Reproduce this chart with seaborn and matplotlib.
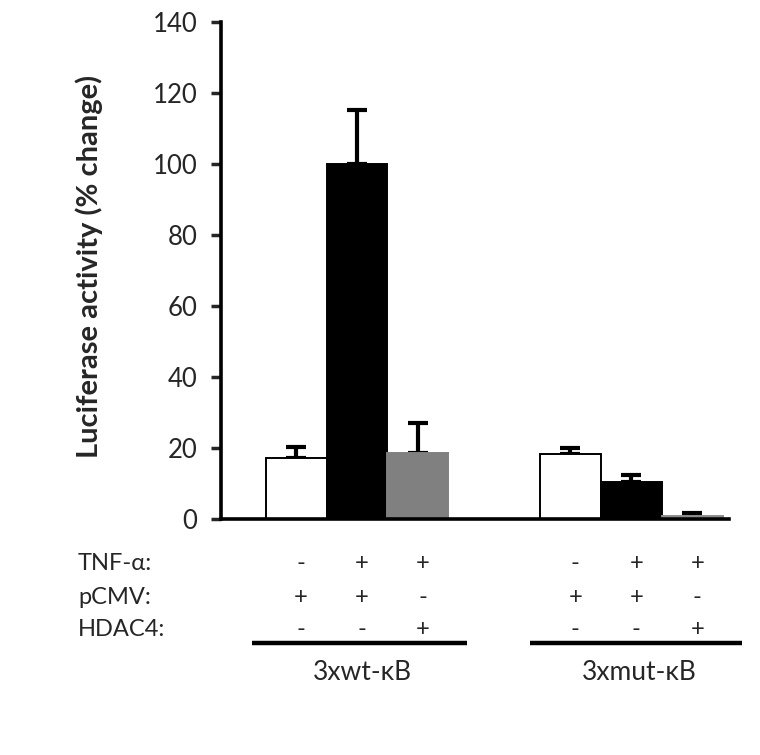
import matplotlib
matplotlib.use("Agg")
import matplotlib.pyplot as plt
import matplotlib.transforms as mtransforms
import seaborn as sns
import pandas as pd
import numpy as np

# ---- data ----
groups = ["3xwt-\u03baB", "3xmut-\u03baB"]
conditions = ["ctrl", "TNF", "TNF+HDAC4", "ctrl", "TNF", "TNF+HDAC4"]
group_of_bar = [0, 0, 0, 1, 1, 1]
positions = [0.0, 1.0, 2.0, 4.5, 5.5, 6.5]
values = [17.0, 100.0, 18.4, 18.1, 10.2, 0.8]
errors = [3.3, 15.0, 8.6, 1.9, 2.1, 0.7]
row_labels = ["TNF-\u03b1:", "pCMV:", "HDAC4:"]
tnf_signs = ["-", "+", "+", "-", "+", "+"]
pcmv_signs = ["+", "+", "-", "+", "+", "-"]
hdac4_signs = ["-", "-", "+", "-", "-", "+"]
yticks = [0, 20, 40, 60, 80, 100, 120, 140]
ylabel = "Luciferase activity (% change)"

face_colors = ["#ffffff", "#000000", "#808080", "#ffffff", "#000000", "#a6a6a6"]
edge_colors = ["#000000", "#000000", "#808080", "#000000", "#000000", "#8c8c8c"]

sns.set_style("white")
plt.rcParams["font.family"] = ["Lato", "DejaVu Sans"]

fig = plt.figure(figsize=(7.6, 7.55), dpi=100)
ax = fig.add_axes([0.2908, 0.313, 0.9592 - 0.2908, 0.9713 - 0.313])

df = pd.DataFrame({"pos": positions, "value": values, "bar": [str(i) for i in range(6)]})
palette = {str(i): face_colors[i] for i in range(6)}
sns.barplot(data=df, x="pos", y="value", hue="bar", palette=palette,
            native_scale=True, width=1.0, legend=False, ax=ax, saturation=1,
            errorbar=None)

for p in ax.patches:
    cx = p.get_x() + p.get_width() / 2
    i = int(np.argmin([abs(cx - q) for q in positions]))
    p.set_facecolor(face_colors[i])
    p.set_edgecolor(edge_colors[i])
    p.set_linewidth(1.4)
    p.set_zorder(2)

ax.errorbar(positions, values, yerr=[np.zeros(len(errors)), errors], fmt="none",
            ecolor="black", elinewidth=3, capsize=7, capthick=3, zorder=1)

ax.set_xlim(-1.23, 7.10)
ax.set_ylim(0, 140)
ax.set_yticks(yticks)
ax.set_yticklabels([str(t) for t in yticks], fontsize=18.5)
ax.set_xticks([])
ax.set_xlabel("")
ax.set_ylabel(ylabel, fontsize=21, fontweight="bold")
ax.yaxis.set_label_coords(-0.232, 0.508)
ax.tick_params(axis="y", direction="out", length=7, width=2.5, pad=10, left=True)
for s in ["top", "right"]:
    ax.spines[s].set_visible(False)
for s in ["left", "bottom"]:
    ax.spines[s].set_linewidth(2.6)
    ax.spines[s].set_color("black")

# ---- condition table below ----
trans = mtransforms.blended_transform_factory(ax.transData, fig.transFigure)
row_y = [1 - 563 / 755, 1 - 597 / 755, 1 - 630 / 755]
for lab, yy in zip(row_labels, row_y):
    fig.text(78 / 760, yy, lab, fontsize=17, ha="left", va="center")
for signs, yy in zip([tnf_signs, pcmv_signs, hdac4_signs], row_y):
    for pos, s in zip(positions, signs):
        ax.text(pos + 0.08, yy, s, transform=trans, fontsize=17, ha="center",
                va="center", clip_on=False)

line_y = 1 - 643 / 755
group_spans = [(-0.72, 2.80), (3.84, 7.31)]
for (x0, x1), name in zip(group_spans, groups):
    ax.plot([x0, x1], [line_y, line_y], transform=trans, color="black",
            lw=3.2, solid_capstyle="butt", clip_on=False)
    ax.text((x0 + x1) / 2 + 0.05, 1 - 672 / 755, name, transform=trans,
            fontsize=19, ha="center", va="center", clip_on=False)

fig.savefig("out.png", dpi=100)
